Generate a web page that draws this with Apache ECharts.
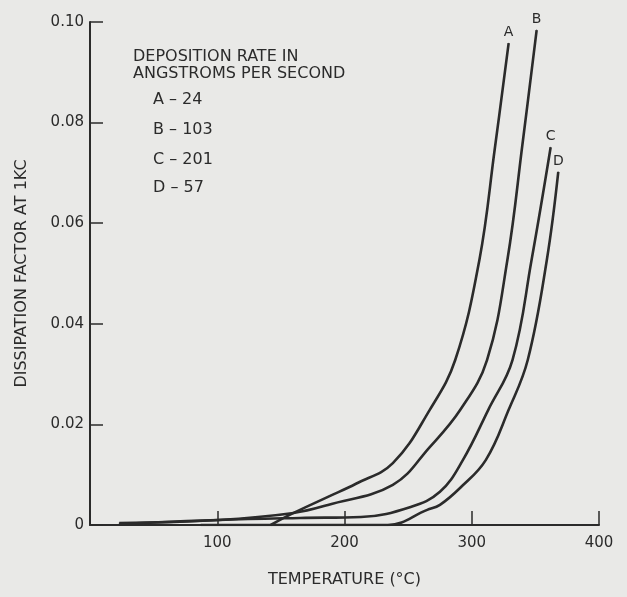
<!DOCTYPE html>
<html>
<head>
<meta charset="utf-8">
<script src="https://cdn.jsdelivr.net/npm/echarts@6/dist/echarts.min.js"></script>
<style>
html,body{margin:0;padding:0;background:#e9e9e7;}
#chart{width:627px;height:597px;}
</style>
</head>
<body>
<div id="chart"></div>
<script>
// Temperature (°C) and dissipation factor at 1 kc
const tempA = [142, 160, 187, 209, 238, 267, 287, 306, 318, 329];
const dissA = [0.0000, 0.0024, 0.0056, 0.0082, 0.0123, 0.0229, 0.0328, 0.0527, 0.0746, 0.0958];

const tempB = [23, 101, 160, 187, 238, 267, 291, 312, 328, 340, 351];
const dissB = [0.0004, 0.0010, 0.0024, 0.0040, 0.0080, 0.0155, 0.0229, 0.0328, 0.0527, 0.0760, 0.0984];

const tempC = [23, 101, 165, 213, 252, 275, 293, 313, 332, 347, 362];
const dissC = [0.0002, 0.0010, 0.0014, 0.0016, 0.0036, 0.0066, 0.0129, 0.0229, 0.0328, 0.0527, 0.0751];

const tempD = [87, 234, 265, 275, 291, 311, 329, 344, 359, 368];
const dissD = [0.0000, 0.0000, 0.0030, 0.0040, 0.0074, 0.0129, 0.0229, 0.0328, 0.0527, 0.0702];

const curveNames = ['A', 'B', 'C', 'D'];
const legendTitle = ['DEPOSITION RATE IN', 'ANGSTROMS PER SECOND'];
const legendRows = ['A \u2013 24', 'B \u2013 103', 'C \u2013 201', 'D \u2013 57'];

const xTicks = [0, 100, 200, 300, 400];
const yTicks = [0, 0.02, 0.04, 0.06, 0.08, 0.10];

const FONT = 'DejaVu Sans';
const INK = '#2b2b2b';

function buildData(t, v, name) {
  return t.map((x, i) => {
    const item = { value: [x, v[i]] };
    if (i === t.length - 1) {
      item.label = { show: true, formatter: name, position: 'top', distance: 3,
        color: INK, fontFamily: FONT, fontSize: 14, opacity: 1 };
    }
    return item;
  });
}

const sets = [[tempA, dissA], [tempB, dissB], [tempC, dissC], [tempD, dissD]];

const chart = echarts.init(document.getElementById('chart'), null, { renderer: 'canvas' });
chart.setOption({
  backgroundColor: '#e9e9e7',
  animation: false,
  grid: { left: 90, right: 28, top: 22, bottom: 72, containLabel: false },
  xAxis: {
    type: 'value', min: xTicks[0], max: xTicks[xTicks.length - 1], interval: 100,
    name: 'TEMPERATURE (\u00b0C)', nameLocation: 'middle', nameGap: 47,
    nameTextStyle: { color: INK, fontFamily: FONT, fontSize: 16 },
    axisLine: { lineStyle: { color: INK, width: 2 } },
    axisTick: { inside: true, length: 14, lineStyle: { color: INK, width: 1.5 } },
    axisLabel: { color: INK, fontFamily: FONT, fontSize: 15, margin: 11,
      formatter: v => (v === 0 ? '' : String(v)) },
    splitLine: { show: false }
  },
  yAxis: {
    type: 'value', min: yTicks[0], max: yTicks[yTicks.length - 1], interval: 0.02,
    name: 'DISSIPATION FACTOR AT 1KC', nameLocation: 'middle', nameGap: 60,
    nameTextStyle: { color: INK, fontFamily: FONT, fontSize: 16 },
    axisLine: { lineStyle: { color: INK, width: 2 } },
    axisTick: { inside: true, length: 13, lineStyle: { color: INK, width: 1.5 } },
    axisLabel: { color: INK, fontFamily: FONT, fontSize: 15, margin: 6,
      formatter: v => (v === 0 ? '0' : v.toFixed(2)) },
    splitLine: { show: false }
  },
  graphic: [
    { type: 'text', left: 133, top: 48,
      style: { text: legendTitle.join('\n'), fill: INK, font: '16px "DejaVu Sans"', lineHeight: 17 } },
    { type: 'text', left: 153, top: 92,
      style: { text: legendRows[0], fill: INK, font: '16px "DejaVu Sans"' } },
    { type: 'text', left: 153, top: 122,
      style: { text: legendRows[1], fill: INK, font: '16px "DejaVu Sans"' } },
    { type: 'text', left: 153, top: 152,
      style: { text: legendRows[2], fill: INK, font: '16px "DejaVu Sans"' } },
    { type: 'text', left: 153, top: 180,
      style: { text: legendRows[3], fill: INK, font: '16px "DejaVu Sans"' } }
  ],
  series: sets.map((s, k) => ({
    name: curveNames[k],
    type: 'line',
    data: buildData(s[0], s[1], curveNames[k]),
    showSymbol: true,
    symbol: 'circle',
    symbolSize: 1,
    smooth: 0.4,
    lineStyle: { color: INK, width: 2.6 },
    itemStyle: { color: INK },
    emphasis: { disabled: true }
  }))
});
</script>
</body>
</html>
